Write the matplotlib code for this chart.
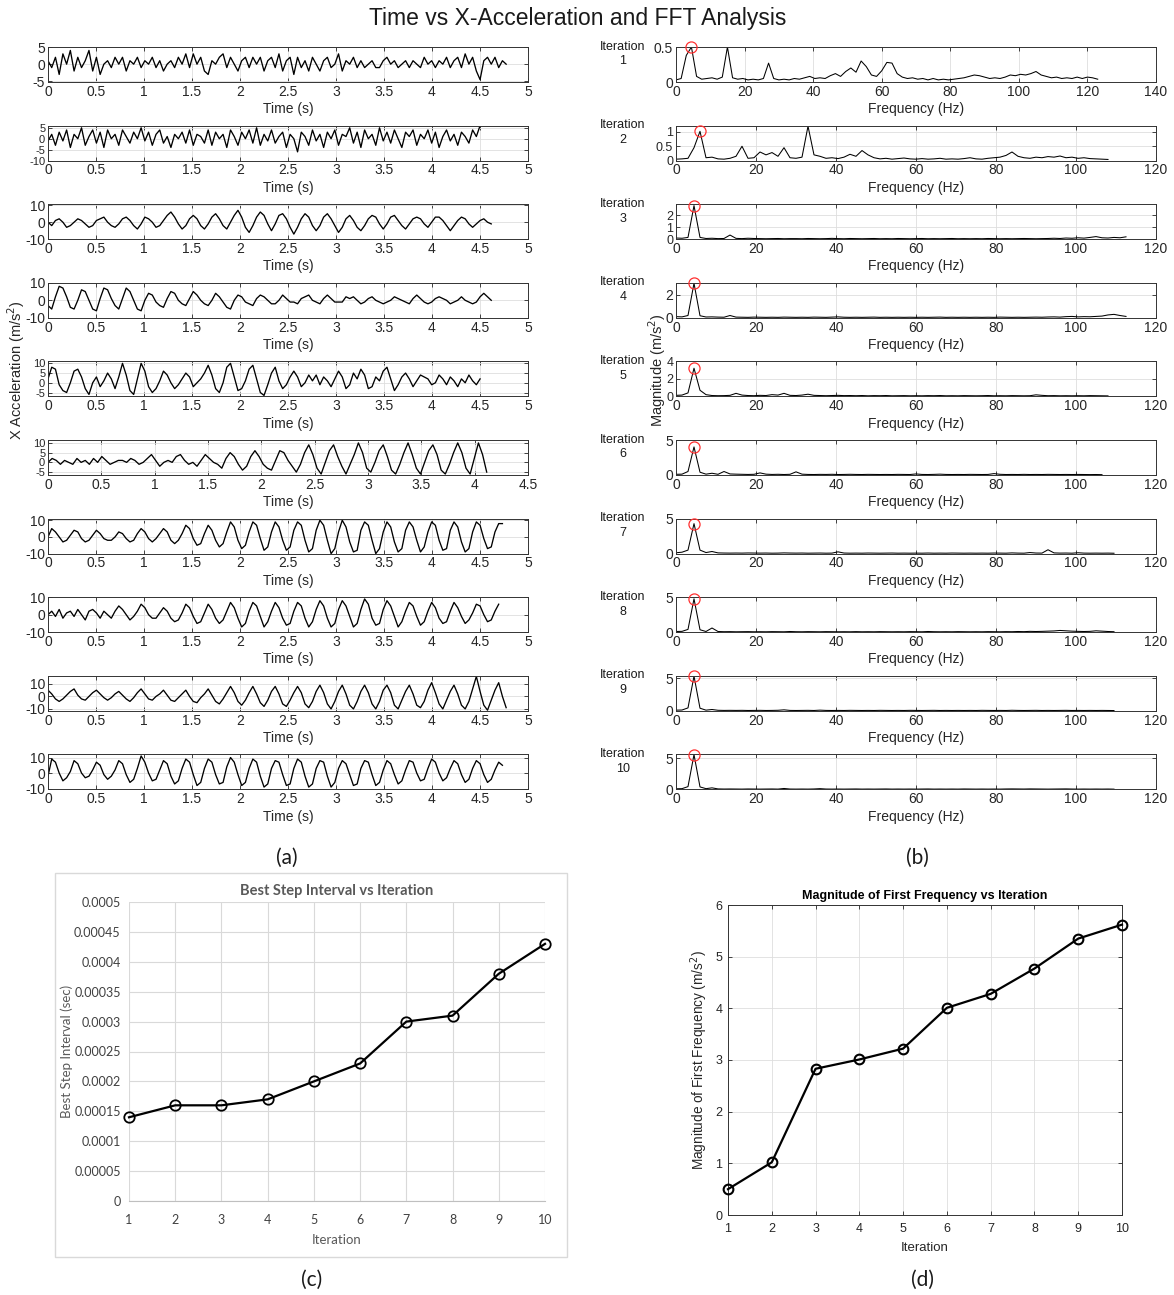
import numpy as np
import matplotlib
matplotlib.use("Agg")
import matplotlib.pyplot as plt
from matplotlib.patches import Rectangle
from matplotlib.ticker import FuncFormatter

plt.rcParams['font.family'] = ['Liberation Sans', 'DejaVu Sans']
plt.rcParams['axes.unicode_minus'] = False

# ---------------- data ----------------
DT = 0.0388   # sample interval of the acceleration traces (s)
DF = 1.5      # frequency resolution of the spectra (Hz)

accel_it1 = [1,-1,2,-3,3,0,4,-2,2,-1,1,4,-2, 2,-3,0,1,-1,2,0,2,-2,1,0,2,-1,
             1,0,2,-1,1,-2,0,1,-1,2,0,3,-1, 3,0,2,-2,-3,1,0,2,3,-1,2,0,-2,
             1,2,-1,2,0,2,-2,1,2,-1,3,-2,1, 2,-3,2,-1,1,-2,2,0,-2,1,2,-1,0,
             3,-2,1,0,2,-1,1,-1,0,1,-1,-1,1, 2,0,1,-1,0,1,-1,1,0,-1,2,0,1,
             -1,1,0,2,-1,1,2,-1,3,0,2,-2,-4.5, 1,2,0,2,-1,1,0]
accel_it2 = [-1,2,-3,3,-1,4,-4,2,0,5,-3,1,4, -2,3,-4,4,0,2,-3,4,1,-2,3,0,5,
             -1,3,-3,2,4,-2,1,-4,2,0,3,-2,4, -3,2,1,-2,4,-3,3,0,2,-4,4,1,-3,
             3,0,4,-2,5,-3,2,-1,4,-2,1,3,-4, 2,0,-6,3,1,-3,4,-1,2,-4,3,0,4,
             -3,2,1,5,-2,3,-4,4,0,2,-3,5,-1, 3,-2,4,0,-4,3,1,4,-3,2,0,4,-2,
             3,-4,1,4,-1,2,-3,3,1,-2,4,1,6]
accel_it3 = [0,-2,1,2,0,-3, -2,0,2,1,-1,-3, -2,1,2,3,0,-2, -3,-1,2,3,1,-2,
             -4,-1,3,2,0,-3, -2,1,4,6,3,-1, -4,-2,2,4,2,-2, -4,-1,3,5,2,-2,
             -4,0,4,7,3,-3, -6,-2,3,6,4,-1, -5,-1,4,5,2,-3, -7,-3,2,5,3,-2,
             -5,-2,3,5,2,-2, -6,-3,2,4,1,-3, -5,-2,2,4,3,-1, -4,-1,3,4,1,-2,
             -4,-1,2,3,2,-1, -3,0,3,3,1,-2, -5,-2,1,3,2,-1, -3,-1,1,2,0,-1]
accel_it4 = [-3,-5,2,8,7,2, -4,-5,0,6,5,0, -5,-6,1,7,6,1, -3,-5,1,7,5,0,
             -5,-6,0,4,3,-1, -3,-4,1,5,4,0, -2,-3,1,5,3,0, -2,-3,0,4,2,-1,
             -4,-5,0,3,2,-1, -2,-3,1,3,2,0, -2,-2,0,3,1,-1, -1,-2,1,2,3,0,
             -1,-2,1,3,1,-1, -1,-1,2,1,2,0, -2,-1,1,2,0,-1, -2,-1,0,2,1,0,
             -1,-2,1,3,1,-1, -2,-1,1,2,1,0, -2,-1,0,2,0,-1, -2,-1,2,4,2,0]
accel_it5 = [2,8,7,-1,-4,-5, 0,6,7,3,-3,-6, 0,3,-2,1,5,2, -3,3,10,4,-4,-6,
             2,10,6,-2,-5,-3, 1,6,4,0,-3,-1, 2,5,3,-2,0,2, 5,9,4,-3,-5,0,
             8,10,3,-4,-3,1, 7,9,2,-5,-6.5,-1, 5,8,1,-3,-1,3, 6,3,-2,0,4,1,
             4,-1,3,1,-2,2, 6,3,-3,-1,5,2, 7,4,-3,-2,3,1, 6,8,2,-4,-1,3,
             5,2,-2,1,4,3, 2,-1,0,4,2,-1, 3,1,-2,2,0,4, 1,-1,2]
accel_it6 = [0,2,1,-1,1,0, -1,2,0,1,-1,2, 0,3,1,-1,0,1, 1,0,2,1,-1,0,
             2,4,1,-2,0,1, 0,3,4,1,-1,0, -2,1,4,2,0,-1, -3,2,5,3,-1,-4,
             -2,3,6,3,-1,-3, -4,1,6,5,1,-2, -5,-1,5,9,4,-3, -6,0,6,9,3,-2,
             -6,-1,4,10,5,-3, -5,0,6,9,3,-4, -6,-1,5,10,4,-3, -6,0,6,9,4,-4,
             -6,-1,5,10,5,-3, -6,2,10,4,-5]
accel_it7 = [0,5,3,0,-3,-2, 1,4,3,-1,-3,-2, 1,4,2,-1,-2,-2, 0,3,2,-1,-3,-2,
             2,5,3,-1,-3,-1, 2,5,3,-2,-4,-2, 2,7,5,-1,-5,-4, 2,7,4,-2,-6,-4,
             3,9,6,-2,-7,-5, 3,9,7,-1,-8,-6, 3,9,6,-2,-8,-6, 4,9,7,-2,-9,-7,
             4,10,7,-2,-10,-7, 3,10,6,-3,-9,-8, 4,9,7,-2,-10,-7, 3,9,6,-3,-9,-7,
             4,9,6,-2,-9,-6, 3,9,7,-2,-8,-7, 4,9,6,-3,-9,-7, 3,9,7,-1,-7,-6,
             3,8,8]
accel_it8 = [0,2,-1,3,-2,1, 2,-1,3,0,-3,2, 3,1,-2,2,0,-2, 2,5,3,0,-3,-1,
             2,6,4,0,-2,-2, 1,4,2,-2,-4,-3, 1,6,4,-1,-5,-4, 1,6,3,-2,-5,-3,
             2,7,4,-2,-7,-5, 2,7,5,-1,-7,-4, 2,7,4,-2,-6,-5, 2,7,5,-2,-7,-4,
             3,8,5,-2,-7,-5, 3,8,5,-1,-7,-5, 3,9,6,-2,-6,-5, 3,8,5,-1,-7,-4,
             2,7,5,-1,-6,-4, 2,7,4,-2,-5,-4, 2,7,4,-1,-5,-3, 1,6,5,0,-4,-3,
             2,6]
accel_it9 = [5,2,-2,-4,-2,1, 4,6,1,-2,-3,0, 3,5,2,-1,-3,-1, 2,4,1,-2,-4,-1,
             3,6,2,-2,-3,0, 2,5,1,-3,-4,-1, 2,5,0,-4,-5,-1, 2,6,1,-4,-6,-2,
             3,8,3,-4,-7,-3, 3,8,2,-5,-8,-3, 4,8,2,-6,-8,-3, 3,8,3,-6,-9,-4,
             4,9,3,-6,-10,-4, 4,9,2,-7,-10,-4, 4,9,3,-6,-10,-4, 5,9,3,-7,-10,-3,
             4,9,2,-7,-9,-4, 5,11,3,-6,-10,-3, 4,9,2,-7,-10,-4, 6,16,4,-7,-11,-3,
             5,11,0,-9]
accel_it10 = [-2,9,7,0,-5,-3, 1,8,6,0,-3,-2, 2,7,5,-1,-4,-2, 2,8,6,-1,-6,-4,
              3,11,7,0,-5,-4, 2,8,6,-2,-7,-5, 3,9,7,-1,-8,-6, 3,9,7,-1,-7,-6,
              4,10,7,-1,-8,-6, 3,9,7,-2,-9,-7, 3,8,7,-1,-8,-7, 3,9,7,-2,-9,-7,
              3,8,7,-2,-9,-6, 3,8,6,-1,-8,-7, 3,8,7,-1,-8,-6, 2,8,6,-1,-7,-5,
              2,8,7,0,-5,-4, 3,9,7,0,-5,-3, 3,8,6,-1,-6,-4, 3,8,6,-1,-6,-4,
              2,7,5]

fft_it1 = [0.03,0.05,0.38,0.5,0.08,0.04,0.05,0.06,0.04,0.07,
           0.5,0.06,0.04,0.05,0.03,0.04,0.03,0.05,0.27,0.05,
           0.03,0.04,0.03,0.05,0.04,0.06,0.08,0.05,0.06,0.05,
           0.09,0.12,0.08,0.15,0.2,0.14,0.3,0.22,0.1,0.08,
           0.16,0.28,0.27,0.12,0.07,0.05,0.06,0.04,0.05,0.03,
           0.05,0.03,0.04,0.03,0.04,0.05,0.06,0.08,0.1,0.09,
           0.07,0.05,0.06,0.05,0.07,0.1,0.09,0.11,0.1,0.12,
           0.15,0.1,0.08,0.06,0.07,0.05,0.06,0.05,0.07,0.05,
           0.07,0.06,0.04]
fft_it2 = [0.05,0.06,0.08,0.45,1.02,0.1,0.12,0.06,0.05,0.08,
           0.15,0.5,0.08,0.1,0.3,0.2,0.28,0.15,0.45,0.1,
           0.08,0.12,1.2,0.2,0.15,0.08,0.1,0.07,0.12,0.22,
           0.15,0.35,0.2,0.1,0.06,0.08,0.05,0.07,0.09,0.06,
           0.05,0.07,0.05,0.06,0.08,0.05,0.06,0.05,0.07,0.1,
           0.06,0.05,0.08,0.1,0.12,0.18,0.3,0.15,0.1,0.08,
           0.12,0.1,0.14,0.12,0.16,0.1,0.12,0.08,0.1,0.07,
           0.06,0.05,0.04]
fft_it3 = [0.1,0.08,0.15,2.83,0.15,0.06,0.08,0.05,0.06,0.35,
           0.07,0.05,0.08,0.06,0.05,0.04,0.05,0.06,0.04,0.05,
           0.05,0.04,0.06,0.05,0.04,0.05,0.07,0.05,0.04,0.06,
           0.05,0.04,0.05,0.06,0.04,0.05,0.04,0.06,0.05,0.04,
           0.05,0.06,0.04,0.05,0.04,0.05,0.06,0.04,0.05,0.04,
           0.05,0.04,0.06,0.05,0.04,0.05,0.04,0.05,0.06,0.05,
           0.04,0.05,0.06,0.08,0.06,0.1,0.08,0.12,0.09,0.15,
           0.22,0.12,0.1,0.15,0.12,0.2]
fft_it4 = [0.1,0.08,0.2,3.01,0.18,0.07,0.08,0.06,0.05,0.2,
           0.06,0.05,0.04,0.06,0.05,0.04,0.05,0.04,0.06,0.05,
           0.04,0.05,0.04,0.06,0.05,0.04,0.06,0.08,0.05,0.04,
           0.05,0.04,0.05,0.06,0.04,0.05,0.04,0.05,0.04,0.05,
           0.04,0.05,0.04,0.05,0.06,0.04,0.05,0.04,0.05,0.04,
           0.05,0.04,0.05,0.04,0.06,0.05,0.04,0.05,0.04,0.05,
           0.06,0.05,0.07,0.08,0.06,0.1,0.12,0.08,0.1,0.09,
           0.12,0.15,0.25,0.3,0.2,0.12]
fft_it5 = [0.12,0.15,0.4,3.22,0.7,0.2,0.1,0.08,0.09,0.12,
           0.35,0.15,0.1,0.08,0.12,0.1,0.2,0.15,0.35,0.12,
           0.1,0.15,0.25,0.12,0.1,0.08,0.1,0.12,0.09,0.1,
           0.08,0.1,0.07,0.09,0.08,0.1,0.07,0.08,0.09,0.07,
           0.08,0.07,0.09,0.08,0.1,0.07,0.08,0.07,0.09,0.08,
           0.07,0.08,0.1,0.07,0.08,0.07,0.09,0.08,0.07,0.08,
           0.18,0.12,0.08,0.09,0.07,0.08,0.07,0.08,0.07,0.09,
           0.08,0.07,0.06]
fft_it6 = [0.1,0.12,0.5,4.01,0.4,0.12,0.25,0.1,0.5,0.15,
           0.12,0.1,0.08,0.1,0.3,0.12,0.08,0.1,0.07,0.1,
           0.45,0.12,0.08,0.07,0.09,0.08,0.1,0.07,0.08,0.1,
           0.08,0.07,0.09,0.08,0.07,0.08,0.07,0.09,0.08,0.07,
           0.15,0.08,0.07,0.09,0.12,0.08,0.07,0.08,0.07,0.09,
           0.08,0.07,0.08,0.2,0.1,0.07,0.08,0.07,0.09,0.07,
           0.08,0.07,0.09,0.08,0.07,0.08,0.07,0.08,0.07,0.06,
           0.07,0.05]
fft_it7 = [0.12,0.2,0.5,4.28,0.5,0.15,0.3,0.1,0.08,0.07,
           0.08,0.07,0.09,0.08,0.07,0.08,0.06,0.07,0.1,0.08,
           0.07,0.08,0.06,0.07,0.08,0.06,0.07,0.25,0.08,0.06,
           0.07,0.06,0.08,0.07,0.06,0.07,0.08,0.06,0.07,0.06,
           0.07,0.06,0.08,0.06,0.07,0.06,0.08,0.07,0.06,0.07,
           0.06,0.07,0.06,0.08,0.07,0.06,0.1,0.07,0.06,0.15,
           0.08,0.07,0.55,0.1,0.07,0.08,0.06,0.12,0.07,0.06,
           0.07,0.06,0.07,0.05]
fft_it8 = [0.1,0.12,0.4,4.77,0.35,0.1,0.6,0.1,0.07,0.08,
           0.06,0.07,0.08,0.06,0.07,0.06,0.08,0.07,0.06,0.1,
           0.07,0.06,0.08,0.07,0.06,0.08,0.07,0.06,0.07,0.06,
           0.08,0.06,0.07,0.06,0.08,0.07,0.06,0.07,0.06,0.08,
           0.07,0.06,0.1,0.07,0.06,0.07,0.06,0.08,0.07,0.06,
           0.07,0.06,0.08,0.07,0.06,0.08,0.07,0.1,0.08,0.12,
           0.1,0.12,0.15,0.18,0.25,0.2,0.15,0.12,0.1,0.12,
           0.2,0.15,0.1,0.07]
fft_it9 = [0.1,0.12,0.45,5.35,0.4,0.1,0.2,0.08,0.06,0.07,
           0.06,0.07,0.05,0.06,0.07,0.05,0.06,0.08,0.15,0.06,
           0.05,0.06,0.07,0.05,0.1,0.06,0.05,0.06,0.05,0.07,
           0.06,0.05,0.06,0.05,0.07,0.06,0.05,0.06,0.05,0.07,
           0.06,0.05,0.06,0.07,0.05,0.06,0.05,0.06,0.05,0.06,
           0.05,0.07,0.06,0.05,0.06,0.05,0.08,0.06,0.05,0.06,
           0.07,0.05,0.06,0.05,0.06,0.07,0.05,0.06,0.05,0.06,
           0.05,0.06,0.05,0.04]
fft_it10 = [0.1,0.12,0.45,5.62,0.4,0.12,0.25,0.08,0.06,0.07,
            0.06,0.05,0.07,0.06,0.05,0.06,0.07,0.05,0.15,0.06,
            0.05,0.06,0.05,0.07,0.12,0.06,0.05,0.06,0.05,0.06,
            0.07,0.05,0.06,0.05,0.06,0.07,0.05,0.06,0.05,0.06,
            0.05,0.06,0.07,0.05,0.06,0.05,0.06,0.05,0.07,0.06,
            0.05,0.06,0.05,0.06,0.05,0.07,0.08,0.07,0.06,0.08,
            0.07,0.06,0.05,0.06,0.07,0.08,0.06,0.05,0.06,0.05,
            0.06,0.05,0.06,0.04]

accel_series = [accel_it1, accel_it2, accel_it3, accel_it4, accel_it5,
                accel_it6, accel_it7, accel_it8, accel_it9, accel_it10]
fft_series = [fft_it1, fft_it2, fft_it3, fft_it4, fft_it5,
              fft_it6, fft_it7, fft_it8, fft_it9, fft_it10]

accel_ylims = [(-5.2, 5), (-10, 6), (-10, 10.6), (-10, 10), (-7, 11),
               (-6.5, 11.5), (-10, 11), (-10, 10), (-11.5, 16.5), (-10.5, 12)]
accel_yticks = [[-5, 0, 5], [-10, -5, 0, 5], [-10, 0, 10], [-10, 0, 10],
                [-5, 0, 5, 10], [-5, 0, 5, 10], [-10, 0, 10], [-10, 0, 10],
                [-10, 0, 10], [-10, 0, 10]]
accel_xmax = [5, 5, 5, 5, 5, 4.5, 5, 5, 5, 5]

fft_ylims = [(0, 0.5), (0, 1.22), (0, 2.95), (0, 3.05), (0, 4), (0, 5),
             (0, 5), (0, 5), (0, 5.4), (0, 5.65)]
fft_yticks = [[0, 0.5], [0, 0.5, 1], [0, 1, 2], [0, 2], [0, 2, 4], [0, 5],
              [0, 5], [0, 5], [0, 5], [0, 5]]
fft_xmax = [140, 120, 120, 120, 120, 120, 120, 120, 120, 120]

iterations = [1, 2, 3, 4, 5, 6, 7, 8, 9, 10]
best_step = [0.00014, 0.00016, 0.00016, 0.00017, 0.0002, 0.00023,
             0.0003, 0.00031, 0.00038, 0.00043]
first_freq_mag = [0.5, 1.02, 2.83, 3.01, 3.22, 4.01, 4.28, 4.77, 5.35, 5.62]

# ---------------- layout helpers ----------------
W, H = 1174, 1295
fig = plt.figure(figsize=(W / 100, H / 100), dpi=100)
fig.patch.set_facecolor('white')


def rect(l, t, r, b):
    return [l / W, 1 - b / H, (r - l) / W, (b - t) / H]


def fx(x):
    return x / W


def fy(y):
    return 1 - y / H


gfmt = FuncFormatter(lambda v, p: ('%g' % v))
AX_COL = '#262626'
TXT_COL = '#262626'


def matlab_style(ax, labelsize=10):
    for s in ax.spines.values():
        s.set_color('#333333')
        s.set_linewidth(0.7)
    ax.tick_params(direction='in', top=True, right=True, length=3, width=0.6,
                   colors=AX_COL, labelsize=labelsize, pad=2)
    ax.grid(True, color='#dedede', linewidth=0.6)
    ax.set_axisbelow(True)


row_tops = [47 + i * 78.6 for i in range(10)]
ROW_H = 35

for i in range(10):
    top = row_tops[i]
    # ---- time-domain ----
    ax = fig.add_axes(rect(48, top, 528, top + ROW_H))
    v = np.array(accel_series[i], dtype=float)
    t = np.arange(len(v)) * DT
    ax.plot(t, v, color='black', lw=0.95)
    ax.set_xlim(0, accel_xmax[i])
    ax.set_xticks(np.arange(0, accel_xmax[i] + 0.01, 0.5))
    ax.set_ylim(*accel_ylims[i])
    ax.set_yticks(accel_yticks[i])
    ax.xaxis.set_major_formatter(gfmt)
    ax.yaxis.set_major_formatter(gfmt)
    matlab_style(ax)
    if len(accel_yticks[i]) > 3:
        ax.tick_params(axis='y', labelsize=8)
    ax.set_xlabel('Time (s)', fontsize=10, color=TXT_COL, labelpad=2.5)

    # ---- spectrum ----
    ax2 = fig.add_axes(rect(676, top, 1156, top + ROW_H))
    m = np.array(fft_series[i], dtype=float)
    f = np.arange(len(m)) * DF
    ax2.plot(f, m, color='black', lw=0.75)
    k = int(np.argmax(m[:6]))
    ax2.plot([f[k]], [m[k]], 'o', mfc='none', mec='#ff3030', ms=8, mew=0.9,
             clip_on=False, zorder=5)
    ax2.set_xlim(0, fft_xmax[i])
    ax2.set_xticks(np.arange(0, fft_xmax[i] + 1, 20))
    ax2.set_ylim(*fft_ylims[i])
    ax2.set_yticks(fft_yticks[i])
    ax2.xaxis.set_major_formatter(gfmt)
    ax2.yaxis.set_major_formatter(gfmt)
    matlab_style(ax2)
    if len(fft_yticks[i]) > 2:
        ax2.tick_params(axis='y', labelsize=9)
    ax2.set_xlabel('Frequency (Hz)', fontsize=10, color=TXT_COL, labelpad=2.5)

    fig.text(fx(623), fy(top + 7), 'Iteration\n%d' % iterations[i],
             ha='center', va='center', fontsize=9, color='#1a1a1a',
             linespacing=1.3)

fig.text(fx(578), fy(18), 'Time vs X-Acceleration and FFT Analysis',
         ha='center', va='center', fontsize=16.5, color='#1a1a1a')
fig.text(fx(16), fy(370), 'X Acceleration (m/s$^2$)', rotation=90,
         ha='center', va='center', fontsize=10.5, color=TXT_COL)
fig.text(fx(657), fy(370), 'Magnitude (m/s$^2$)', rotation=90,
         ha='center', va='center', fontsize=10.5, color=TXT_COL)

# ---------------- panel (c): Excel-like ----------------
fig.patches.append(Rectangle((fx(55), fy(1257)), fx(567) - fx(55), fy(873) - fy(1257),
                             transform=fig.transFigure, fill=False,
                             edgecolor='#d9d9d9', lw=1.0))
axc = fig.add_axes(rect(129, 902, 545, 1201))
axc.plot(iterations, best_step, color='black', lw=1.6, marker='o', ms=7.5,
         mfc='none', mec='black', mew=1.3, clip_on=False, zorder=4)
axc.set_xlim(1, 10)
axc.set_ylim(0, 0.0005)
axc.set_xticks(iterations)
axc.set_yticks(np.arange(0, 0.00051, 0.00005))
axc.yaxis.set_major_formatter(FuncFormatter(
    lambda v, p: ('%.5f' % v).rstrip('0').rstrip('.')))
for s in ['top', 'right', 'left']:
    axc.spines[s].set_visible(False)
axc.spines['bottom'].set_color('#bfbfbf')
axc.grid(True, color='#d9d9d9', linewidth=0.8)
axc.set_axisbelow(True)
axc.tick_params(length=0, labelsize=9, colors='#404040')
axc.tick_params(axis='x', pad=9)
axc.tick_params(axis='y', pad=6)
for lab in axc.get_xticklabels() + axc.get_yticklabels():
    lab.set_fontfamily(['Lato', 'DejaVu Sans'])
axc.set_title('Best Step Interval vs Iteration', fontsize=10.5, color='#595959',
              fontweight='bold', family=['Lato', 'DejaVu Sans'], pad=5)
axc.set_ylabel('Best Step Interval (sec)', fontsize=9.5, color='#595959',
               family=['Lato', 'DejaVu Sans'], labelpad=1)
axc.set_xlabel('Iteration', fontsize=9.5, color='#595959',
               family=['Lato', 'DejaVu Sans'], labelpad=6)

# ---------------- panel (d): MATLAB-like ----------------
axd = fig.add_axes(rect(728, 905, 1122, 1215))
axd.plot(iterations, first_freq_mag, color='black', lw=1.6, marker='o', ms=7,
         mfc='none', mec='black', mew=1.5, clip_on=False, zorder=4)
axd.set_xlim(1, 10)
axd.set_ylim(0, 6)
axd.set_xticks(iterations)
axd.set_yticks([0, 1, 2, 3, 4, 5, 6])
matlab_style(axd, labelsize=9)
axd.tick_params(axis='x', pad=6)
axd.tick_params(axis='y', pad=4)
axd.set_title('Magnitude of First Frequency vs Iteration', fontsize=9,
              fontweight='bold', color='black', pad=4)
axd.set_ylabel('Magnitude of First Frequency (m/s$^2$)', fontsize=9.8,
               color=TXT_COL, labelpad=4)
axd.set_xlabel('Iteration', fontsize=9.5, color=TXT_COL, labelpad=5)

# ---------------- panel letters ----------------
for lbl, x, y in [('(a)', 287, 858), ('(b)', 917, 858),
                  ('(c)', 312, 1280), ('(d)', 922, 1280)]:
    fig.text(fx(x), fy(y), lbl, ha='center', va='center', fontsize=15,
             family=['Lato', 'DejaVu Sans'], color='#1a1a1a')

fig.savefig('out.png', dpi=100, facecolor='white')
